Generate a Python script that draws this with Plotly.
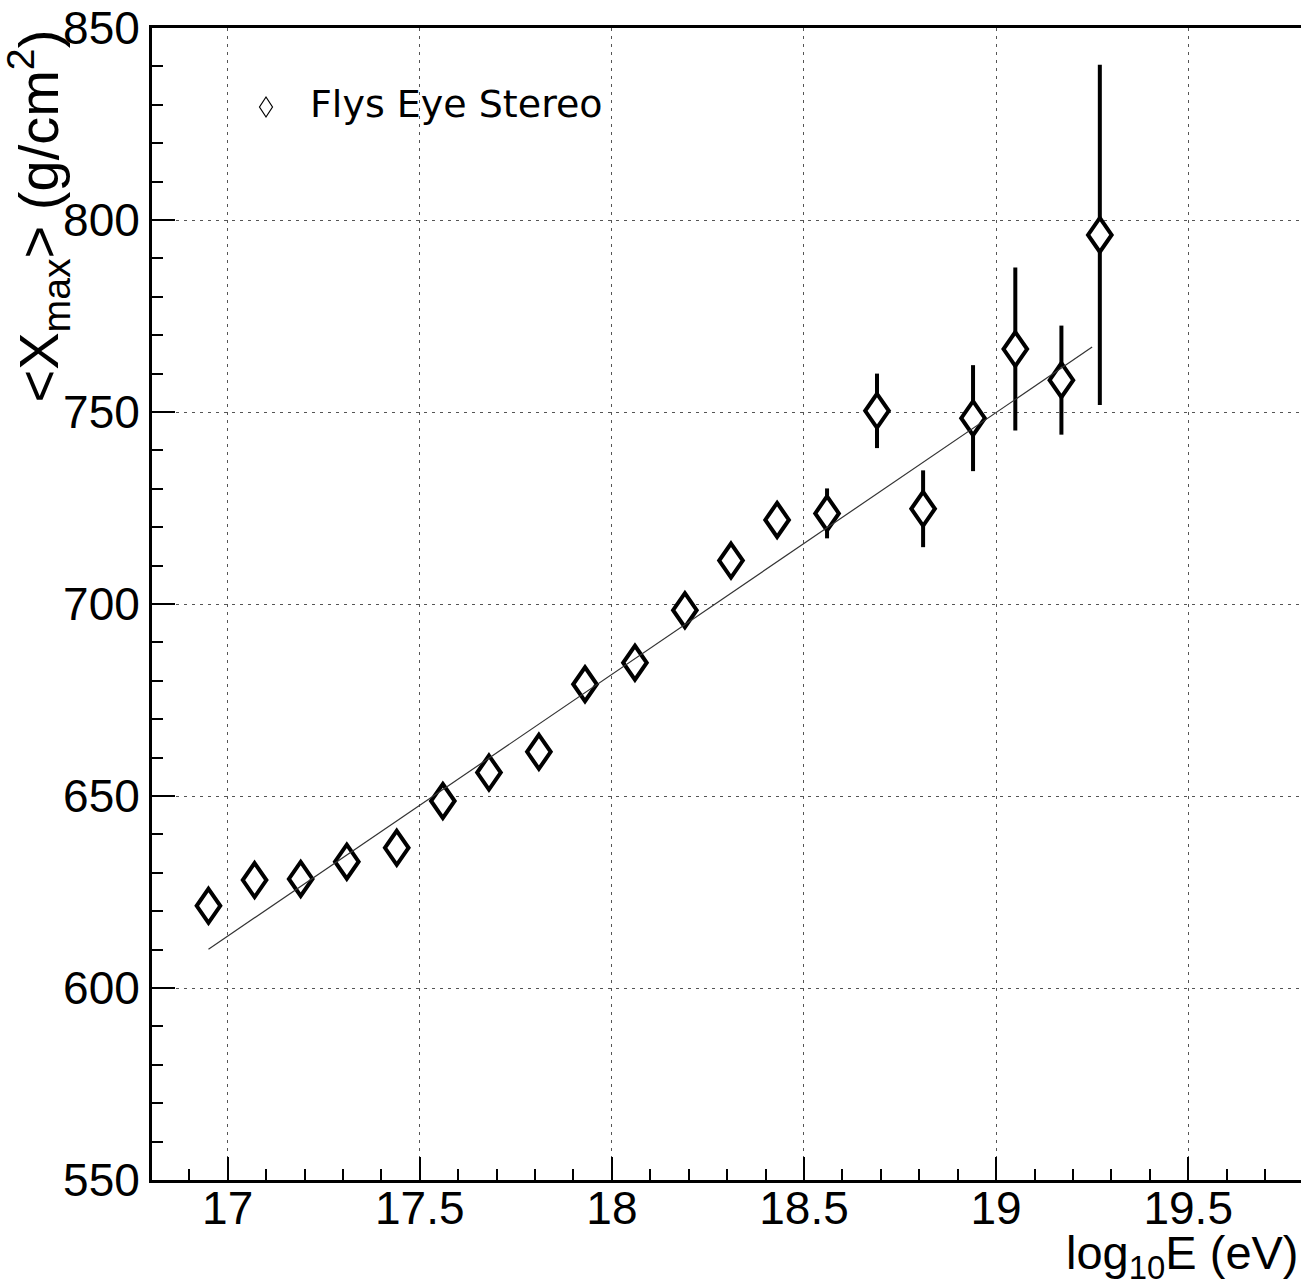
import plotly.graph_objects as go

# Mean depth of shower maximum vs. energy (Fly's Eye stereo)
log_e = [16.95, 17.07, 17.19, 17.31, 17.44, 17.56, 17.68, 17.81, 17.93, 18.06,
         18.19, 18.31, 18.43, 18.56, 18.69, 18.81, 18.94, 19.05, 19.17, 19.27]
xmax_mean = [621.4, 628.1, 628.4, 632.9, 636.5, 648.7, 656.1, 661.5, 679.1, 684.7,
             698.4, 711.3, 721.9, 723.6, 750.3, 724.8, 748.4, 766.4, 758.3, 796.1]
xmax_err = [2.5, 2.5, 2.5, 3.0, 3.0, 3.0, 3.0, 3.5, 3.5, 3.5,
            4.0, 4.0, 4.5, 6.5, 9.7, 10.0, 13.8, 21.2, 14.2, 44.3]

# Straight-line fit (elongation rate)
fit_log_e = [16.95, 19.25]
fit_xmax = [610.1, 766.9]

x_ticks = [17, 17.5, 18, 18.5, 19, 19.5]
y_ticks = [550, 600, 650, 700, 750, 800, 850]

legend_label = "Flys Eye Stereo"
x_title = "log<sub>10</sub>E (eV)"
y_title = "&lt;X<sub>max</sub>&gt; (g/cm<sup>2</sup>)"

W, H = 1301, 1288
ML, MR, MT, MB = 152, 0, 28, 108
X_RANGE = [16.803, 19.7936]
Y_RANGE = [550, 850]

TICK_FONT = dict(family="Liberation Sans, Arial, sans-serif", size=46, color="black")
GRID = dict(showgrid=True, gridcolor="#555555", gridwidth=1, griddash="3px,5px")

fig = go.Figure()

# error bars (markers themselves are drawn as open diamonds below)
fig.add_trace(go.Scatter(
    x=log_e, y=xmax_mean, mode="markers", name=legend_label,
    marker=dict(size=1, color="rgba(0,0,0,0)"),
    error_y=dict(type="data", array=xmax_err, visible=True,
                 thickness=4, width=0, color="black"),
    showlegend=False, hoverinfo="x+y",
))

# diamond markers in data units (half width / half height)
px_per_x = (W - ML - MR) / (X_RANGE[1] - X_RANGE[0])
px_per_y = (H - MT - MB) / (Y_RANGE[1] - Y_RANGE[0])
dx = 11.8 / px_per_x
dy = 17.0 / px_per_y
shapes = []
for xv, yv in zip(log_e, xmax_mean):
    path = (f"M {xv},{yv + dy} L {xv + dx},{yv} L {xv},{yv - dy} "
            f"L {xv - dx},{yv} Z")
    shapes.append(dict(type="path", xref="x", yref="y", path=path,
                       fillcolor="white", line=dict(color="black", width=4),
                       layer="above"))

# fit line on top of the markers
shapes.append(dict(type="line", xref="x", yref="y",
                   x0=fit_log_e[0], y0=fit_xmax[0],
                   x1=fit_log_e[1], y1=fit_xmax[1],
                   line=dict(color="#333333", width=1.2), layer="above"))

# legend glyph
plot_w = W - ML - MR
plot_h = H - MT - MB
def px_to_paper(px, py):
    return (px - ML) / plot_w, (H - MB - py) / plot_h

lx, ly = px_to_paper(266, 107)
lw, lh = 6.5 / plot_w, 10 / plot_h
shapes.append(dict(type="path", xref="paper", yref="paper",
                   path=f"M {lx},{ly + lh} L {lx + lw},{ly} L {lx},{ly - lh} L {lx - lw},{ly} Z",
                   line=dict(color="black", width=1.2), fillcolor="rgba(0,0,0,0)"))

tx, ty = px_to_paper(308, 104)
ax_x, ax_y = px_to_paper(1301, 1256)
yt_x, yt_y = px_to_paper(38, 28)

annotations = [
    dict(text=legend_label, xref="paper", yref="paper", x=tx, y=ty,
         xanchor="left", yanchor="middle", showarrow=False,
         font=dict(family="DejaVu Sans, sans-serif", size=38, color="black")),
    dict(text=x_title, xref="paper", yref="paper", x=ax_x, y=ax_y,
         xanchor="right", yanchor="middle", showarrow=False,
         font=dict(family="Liberation Sans, Arial, sans-serif", size=47, color="black")),
    dict(text=y_title, xref="paper", yref="paper", x=yt_x, y=yt_y,
         xanchor="center", yanchor="top", showarrow=False, textangle=-90,
         font=dict(family="Liberation Sans, Arial, sans-serif", size=56, color="black")),
]

fig.update_layout(
    width=W, height=H,
    margin=dict(l=ML, r=MR, t=MT, b=MB, pad=0),
    paper_bgcolor="white", plot_bgcolor="white",
    showlegend=False,
    shapes=shapes, annotations=annotations,
    xaxis=dict(
        range=X_RANGE, tickmode="array", tickvals=x_ticks,
        ticktext=[f"{v:g}" for v in x_ticks],
        showline=True, linewidth=3, linecolor="black", mirror=True,
        ticks="inside", ticklen=23, tickwidth=1.5, tickcolor="black",
        tickfont=TICK_FONT, zeroline=False, ticklabelstandoff=-14,
        minor=dict(dtick=0.1, tick0=17, ticks="inside", ticklen=11,
                   tickwidth=1.5, tickcolor="black", showgrid=False),
        **GRID,
    ),
    yaxis=dict(
        range=Y_RANGE, tickmode="array", tickvals=y_ticks,
        ticktext=[str(v) for v in y_ticks],
        showline=True, linewidth=3, linecolor="black", mirror=False,
        ticks="inside", ticklen=23, tickwidth=1.5, tickcolor="black",
        tickfont=TICK_FONT, zeroline=False,
        minor=dict(dtick=10, tick0=550, ticks="inside", ticklen=11,
                   tickwidth=1.5, tickcolor="black", showgrid=False),
        **GRID,
    ),
)

fig.write_html("out.html")
